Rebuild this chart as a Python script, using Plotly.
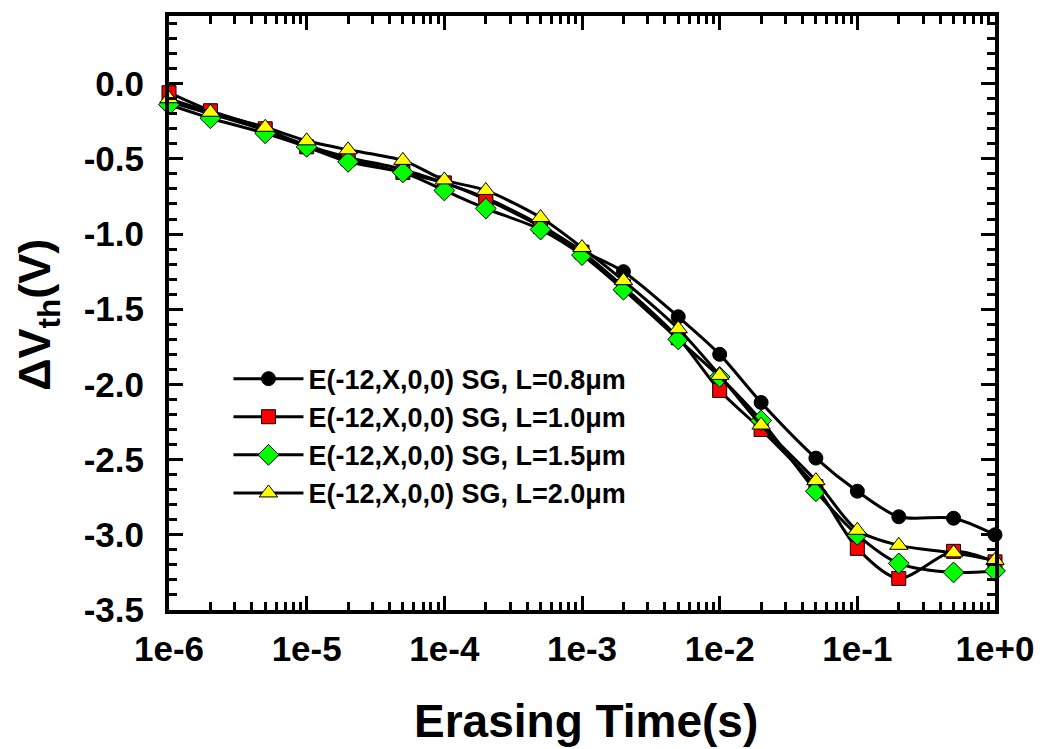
import plotly.graph_objects as go

time_s = [1e-6, 2e-6, 5e-6, 1e-5, 2e-5, 5e-5, 1e-4, 2e-4, 5e-4, 1e-3,
          2e-3, 5e-3, 1e-2, 2e-2, 5e-2, 1e-1, 2e-1, 5e-1, 1.0]

dvth_L08 = [-0.12, -0.20, -0.31, -0.41, -0.49, -0.57, -0.66, -0.76, -0.94, -1.11,
            -1.25, -1.55, -1.80, -2.12, -2.49, -2.71, -2.88, -2.89, -3.00]
dvth_L10 = [-0.06, -0.18, -0.30, -0.42, -0.50, -0.59, -0.66, -0.77, -0.95, -1.12,
            -1.35, -1.69, -2.04, -2.30, -2.68, -3.09, -3.29, -3.11, -3.18]
dvth_L15 = [-0.14, -0.23, -0.33, -0.42, -0.52, -0.59, -0.71, -0.83, -0.97, -1.14,
            -1.37, -1.70, -1.95, -2.24, -2.71, -3.00, -3.19, -3.25, -3.24]
dvth_L20 = [-0.10, -0.19, -0.29, -0.38, -0.44, -0.51, -0.64, -0.71, -0.89, -1.09,
            -1.31, -1.63, -1.94, -2.27, -2.64, -2.97, -3.07, -3.12, -3.17]

series_names = ["E(-12,X,0,0) SG, L=0.8μm", "E(-12,X,0,0) SG, L=1.0μm",
                "E(-12,X,0,0) SG, L=1.5μm", "E(-12,X,0,0) SG, L=2.0μm"]
series_values = [dvth_L08, dvth_L10, dvth_L15, dvth_L20]
marker_symbols = ["circle", "square", "diamond", "triangle-up"]
marker_colors = ["#000000", "#FF0000", "#00FF00", "#FFFF00"]
marker_sizes = [14, 14, 16, 16]

x_tickvals = [1e-6, 1e-5, 1e-4, 1e-3, 1e-2, 1e-1, 1.0]
x_ticktext = ["1e-6", "1e-5", "1e-4", "1e-3", "1e-2", "1e-1", "1e+0"]
y_tickvals = [0.0, -0.5, -1.0, -1.5, -2.0, -2.5, -3.0, -3.5]
y_ticktext = ["0.0", "-0.5", "-1.0", "-1.5", "-2.0", "-2.5", "-3.0", "-3.5"]
x_title = "Erasing Time(s)"
y_title = "ΔV<sub>th</sub>(V)"

FONT = "Liberation Sans, Arial, sans-serif"

fig = go.Figure()
for i, (name, vals) in enumerate(zip(series_names, series_values)):
    fig.add_trace(go.Scatter(
        x=time_s, y=vals, name=name, mode="lines+markers",
        legendgroup=f"g{i}",
        line=dict(color="black", width=3, shape="spline", smoothing=0.8),
        marker=dict(symbol=marker_symbols[i], color=marker_colors[i],
                    size=marker_sizes[i], line=dict(color="black", width=1)),
        cliponaxis=False,
    ))

axis_common = dict(
    showline=True, linecolor="black", linewidth=4, mirror="allticks",
    ticks="inside", tickcolor="black", tickwidth=3, ticklen=14,
    showgrid=False, zeroline=False,
    tickfont=dict(family=FONT, size=35, color="black", weight="bold"),
)

fig.update_xaxes(
    type="log", range=[-6, 0], tickvals=x_tickvals, ticktext=x_ticktext,
    minor=dict(ticks="inside", ticklen=8, tickwidth=3, tickcolor="black", dtick="D1"),
    ticklabelstandoff=5,
    **axis_common,
)
fig.update_yaxes(
    range=[-3.5, 0.45], tickvals=y_tickvals, ticktext=y_ticktext,
    minor=dict(ticks="inside", ticklen=8, tickwidth=3, tickcolor="black", dtick=0.1),
    ticklabelstandoff=14,
    **axis_common,
)

fig.add_annotation(
    text=x_title, xref="paper", yref="paper", x=0.505, y=0,
    xanchor="center", yanchor="top", yshift=-83, showarrow=False,
    font=dict(family=FONT, size=46, color="black", weight="bold"),
)
fig.add_annotation(
    text=y_title, xref="paper", yref="paper", x=0, y=0.497,
    xanchor="center", yanchor="middle", xshift=-131, textangle=-90,
    showarrow=False,
    font=dict(family=FONT, size=45, color="black", weight="bold"),
)

fig.update_layout(
    width=1030, height=741,
    margin=dict(l=161, r=41, t=4, b=139),
    paper_bgcolor="white", plot_bgcolor="white",
    showlegend=True,
    legend=dict(
        x=0.072, y=0.43, xanchor="left", yanchor="top",
        bgcolor="rgba(0,0,0,0)", borderwidth=0,
        font=dict(family=FONT, size=27, color="black", weight="bold"),
        itemwidth=70, tracegroupgap=0,
    ),
)

fig.write_html("out.html")
